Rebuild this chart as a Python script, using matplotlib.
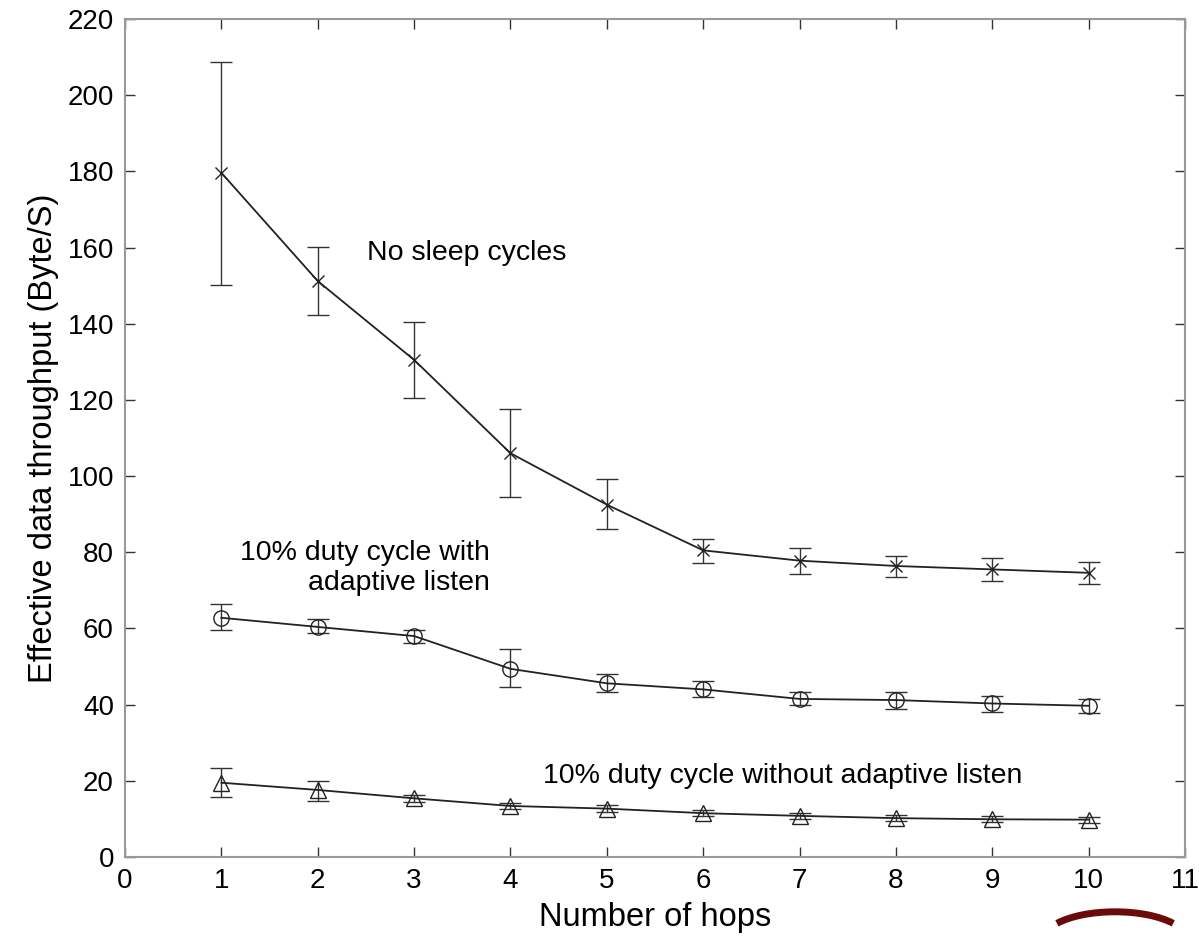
import matplotlib
matplotlib.use("Agg")
import matplotlib.pyplot as plt
from matplotlib.patches import Arc

plt.rcParams['font.family'] = ['Liberation Sans', 'DejaVu Sans']

hops = [1, 2, 3, 4, 5, 6, 7, 8, 9, 10]

# no sleep cycles
nosleep = [179.6, 151.2, 130.5, 106.0, 92.5, 80.5, 77.8, 76.4, 75.5, 74.6]
nosleep_lo = [150.2, 142.3, 120.5, 94.5, 86.0, 77.2, 74.4, 73.5, 72.5, 71.6]
nosleep_hi = [208.8, 160.1, 140.5, 117.6, 99.3, 83.6, 81.0, 79.1, 78.4, 77.5]

# 10% duty cycle with adaptive listen
adaptive = [62.8, 60.4, 58.0, 49.4, 45.6, 44.0, 41.5, 41.2, 40.3, 39.7]
adaptive_lo = [59.7, 58.7, 56.1, 44.6, 43.4, 41.9, 39.8, 38.9, 38.1, 37.9]
adaptive_hi = [66.3, 62.4, 59.7, 54.7, 48.0, 46.2, 43.4, 43.2, 42.3, 41.6]

# 10% duty cycle without adaptive listen
noadapt = [19.5, 17.6, 15.4, 13.4, 12.7, 11.5, 10.8, 10.2, 9.9, 9.8]
noadapt_lo = [15.8, 14.7, 14.4, 12.5, 11.8, 10.7, 10.0, 9.4, 9.1, 9.0]
noadapt_hi = [23.4, 20.0, 16.4, 14.3, 13.6, 12.3, 11.6, 11.0, 10.7, 10.6]

xticks = list(range(0, 12))
yticks = list(range(0, 221, 20))

fig = plt.figure(figsize=(11.99, 9.40), dpi=100)
ax = fig.add_axes([0.1043, 0.0883, 0.884, 0.8915])

series = [
    (nosleep, nosleep_lo, nosleep_hi, 'x', 9),
    (adaptive, adaptive_lo, adaptive_hi, 'o', 11),
    (noadapt, noadapt_lo, noadapt_hi, '^', 11),
]
for vals, lo, hi, mk, ms in series:
    err = [[v - l for v, l in zip(vals, lo)], [h - v for v, h in zip(vals, hi)]]
    ax.errorbar(hops, vals, yerr=err, fmt='none', ecolor='#333333',
                elinewidth=1.0, capsize=8, capthick=1.0)
    ax.plot(hops, vals, color='#222222', lw=1.3, marker=mk, markersize=ms,
            markerfacecolor='none', markeredgecolor='#222222', markeredgewidth=1.0)

ax.text(2.51, 158.6, 'No sleep cycles', fontsize=20.5, ha='left', va='center')
ax.text(3.79, 75.9, '10% duty cycle with\nadaptive listen', fontsize=20.5,
        ha='right', va='center', multialignment='right', linespacing=1.2)
ax.text(4.34, 21.3, '10% duty cycle without adaptive listen', fontsize=20.5,
        ha='left', va='center')

ax.set_xlim(0, 11)
ax.set_ylim(0, 220)
ax.set_xticks(xticks)
ax.set_yticks(yticks)
ax.tick_params(direction='in', length=7, width=1, top=True, right=True,
               labelsize=20, color='#333333', pad=8)
for s in ax.spines.values():
    s.set_color('#999999')
    s.set_linewidth(1.5)
ax.set_xlabel('Number of hops', fontsize=23.5, labelpad=6)
ax.set_ylabel('Effective data throughput (Byte/S)', fontsize=23.5, labelpad=6)

# partial logo swoosh at the bottom right
fig.patches.append(Arc((0.93, 0.0), 0.12, 0.06, theta1=20, theta2=160,
                       transform=fig.transFigure, color='#6b0a0a', lw=5))

fig.savefig('out.png', dpi=100)
